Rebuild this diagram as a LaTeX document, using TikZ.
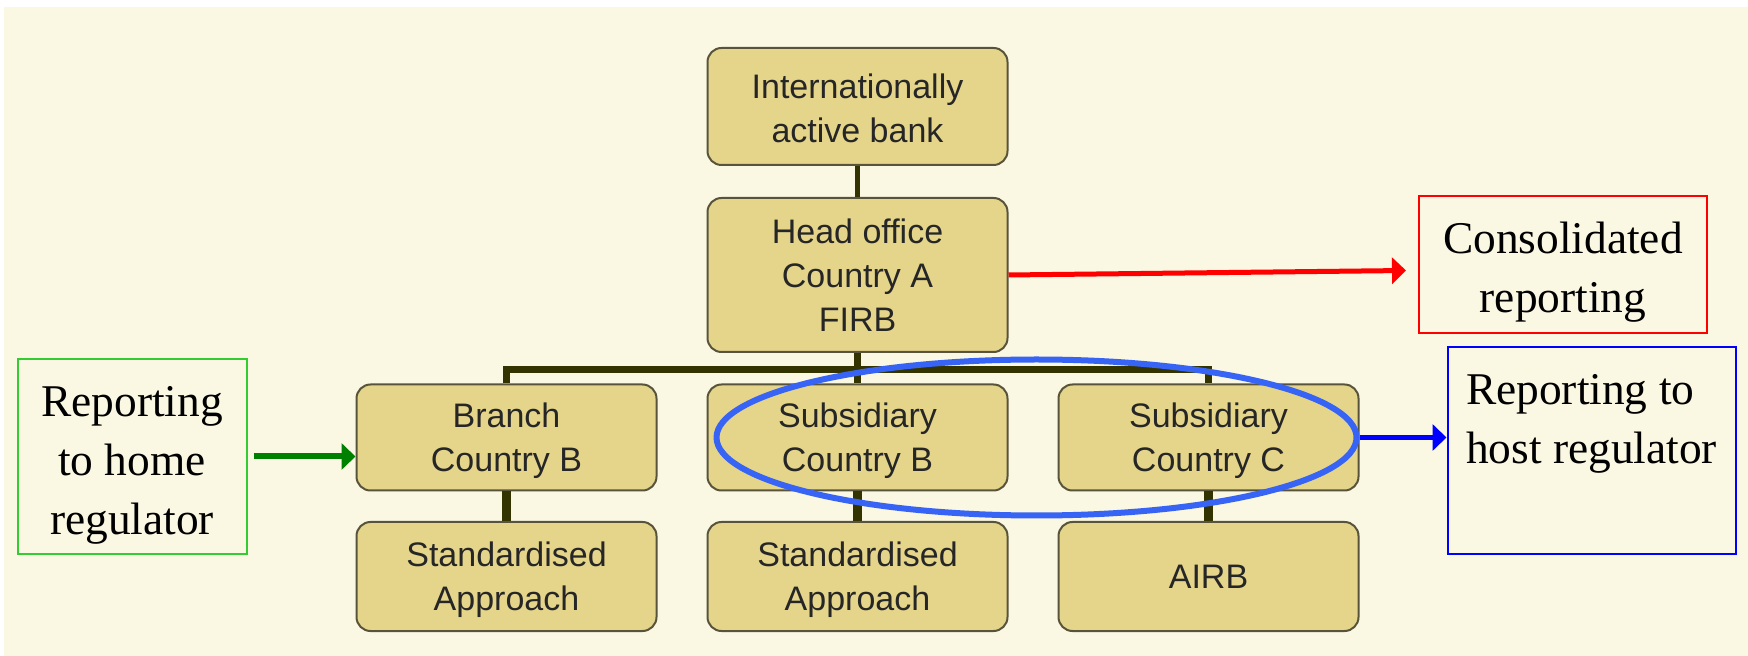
\documentclass[tikz,border=0pt]{standalone}
\usepackage{fontspec}
\setmainfont{Liberation Serif}
\setsansfont{Liberation Sans}
\usetikzlibrary{positioning,calc,arrows.meta}

\definecolor{cream}{RGB}{250,247,226}
\definecolor{boxfill}{RGB}{229,213,139}
\definecolor{boxedge}{RGB}{88,84,60}
\definecolor{treecol}{RGB}{51,51,0}
\definecolor{ringcol}{RGB}{55,100,245}
\definecolor{homegreen}{RGB}{0,128,0}
\definecolor{homeframe}{RGB}{51,204,51}

% taller first line, pushes the note text a little lower in its frame
\newcommand{\notestrut}{\rule{0pt}{23.5pt}}

\begin{document}
\begin{tikzpicture}[on grid,
    orgbox/.style={draw=boxedge, line width=1pt, fill=boxfill, rounded corners=7pt,
      minimum width=150pt, minimum height=53pt, align=center, text=black!85,
      font=\sffamily\fontsize{17}{22}\selectfont},
    notebox/.style={draw=#1, line width=1pt, align=center,
      font=\rmfamily\fontsize{22.7}{29.5}\selectfont},
    link/.style={treecol, line width=#1},
    flow/.style={line width=2.5pt, -{Triangle[length=7pt,width=13pt]}}]
    \useasboundingbox (0,0) rectangle (874pt,-328pt);
    \fill[white] (0,0) rectangle (874pt,-328pt);
    \fill[cream] (2pt,-3.5pt) rectangle (874pt,-328pt);

    % bank structure
    \node[orgbox, minimum height=58.5pt] (bank) at (428.75pt,-53.25pt) {\rule{0pt}{14pt}Internationally\\active bank};
    \node[orgbox, minimum height=77pt] (head) [below=84.25pt of bank] {Head office\\Country A\\FIRB};
    \node[orgbox] (subB) [below=81.25pt of head] {\rule{0pt}{16pt}Subsidiary\\Country B};
    \node[orgbox] (branch) [left=175.5pt of subB] {\rule{0pt}{16pt}Branch\\Country B};
    \node[orgbox] (subC) [right=175.5pt of subB] {\rule{0pt}{16pt}Subsidiary\\Country C};
    \node[orgbox, minimum height=54.5pt] (stdB) [below=69.5pt of branch] {\rule{0pt}{16pt}Standardised\\Approach};
    \node[orgbox, minimum height=54.5pt] (stdS) [below=69.5pt of subB] {\rule{0pt}{16pt}Standardised\\Approach};
    \node[orgbox, minimum height=54.5pt] (airb) [below=69.5pt of subC] {AIRB};

    % regulators
    \node[notebox=homeframe, minimum width=114.5pt, minimum height=97.5pt] (home)
      [below left=9.5pt and 187.25pt of branch] {\notestrut Reporting\\to home\\regulator};
    \node[notebox=red, minimum width=144pt, minimum height=68.5pt] (consol)
      [above right=5.25pt and 352.75pt of head] {\notestrut Consolidated\\reporting};
    \node[notebox=blue, minimum width=144pt, minimum height=103.5pt] (host)
      [below right=6.5pt and 191.5pt of subC] {};
    \node[anchor=north, inner ysep=14pt, align=left,
      font=\rmfamily\fontsize{22.7}{29.5}\selectfont] (hosttext) at (host.north) {Reporting to\\host regulator};

    % tree lines
    \coordinate (bus) at ([yshift=-8.25pt]head.south);
    \draw[link=2.5pt] (bank) -- (head);
    \draw[link=3.5pt] (branch) |- (bus) -| (subC);
    \draw[link=3.5pt] (head) -- (subB);
    \foreach \a/\b in {branch/stdB,subB/stdS,subC/airb}
      \draw[link=4.5pt] (\a) -- (\b);

    % host group
    \draw[ringcol, line width=3pt] ($(subB)!0.51!(subC)$) ellipse [x radius=160pt, y radius=39pt];

    % reporting arrows
    \draw[flow, red] (head.east) -- ([xshift=-6pt,yshift=-3pt]consol.west);
    \draw[flow, homegreen, line width=3pt] ([xshift=3pt]home.east) -- (home.east -| branch.west);
    \draw[flow, blue] (subC.east) -- (subC.east -| host.west);
\end{tikzpicture}
\end{document}
